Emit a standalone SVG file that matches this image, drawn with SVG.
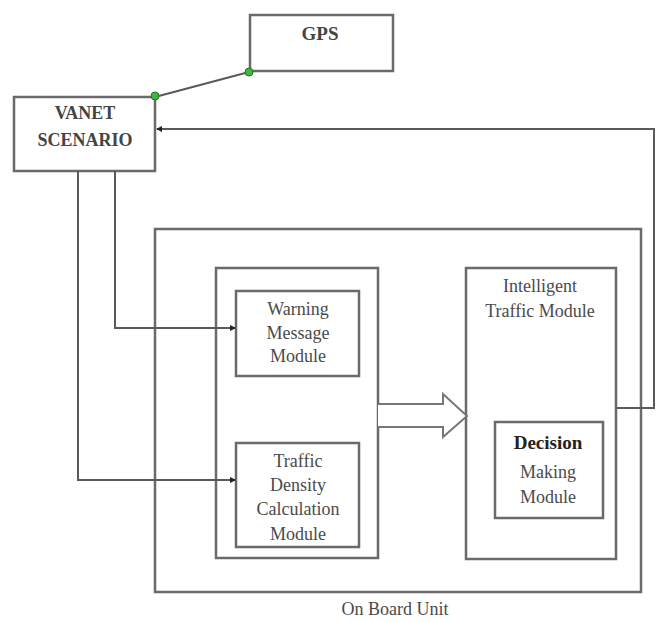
<svg xmlns="http://www.w3.org/2000/svg" width="665" height="622" viewBox="0 0 665 622">
<style>
.box{fill:#fff;stroke:#6a6a6a;stroke-width:2.5}
.ln{fill:none;stroke:#5a5a5a;stroke-width:2}
text{font-family:"Liberation Serif","DejaVu Serif","Times New Roman",serif;fill:#4a4a4a;text-anchor:middle;font-size:18px}
.b{font-weight:bold;fill:#444}
.dot{fill:#3db83d;stroke:#1f7a1f;stroke-width:1}
</style>
<defs>
<marker id="ah" viewBox="0 0 6 6" refX="5" refY="3" markerWidth="6" markerHeight="6" markerUnits="userSpaceOnUse" orient="auto">
<path d="M0,0 L6,3 L0,6 Z" fill="#222"/>
</marker>
</defs>
<rect width="665" height="622" fill="#fff"/>
<g id="obu">
<rect class="box" x="155" y="229" width="486" height="363"/>
<text x="395" y="615">On Board Unit</text>
</g>
<g id="left-group">
<rect class="box" x="216" y="268" width="162" height="290"/>
</g>
<g id="warning">
<rect class="box" x="236" y="291" width="123" height="85"/>
<text x="298" y="315">Warning</text>
<text x="298" y="339">Message</text>
<text x="298" y="362">Module</text>
</g>
<g id="density">
<rect class="box" x="236" y="443" width="123" height="104"/>
<text x="298" y="467">Traffic</text>
<text x="298" y="491">Density</text>
<text x="298" y="515">Calculation</text>
<text x="298" y="540">Module</text>
</g>
<g id="intelligent">
<rect class="box" x="466" y="268" width="150" height="291"/>
<text x="540" y="292">Intelligent</text>
<text x="540" y="317">Traffic Module</text>
</g>
<g id="decision">
<rect class="box" x="495" y="422" width="108" height="96"/>
<text class="b" x="548" y="449" style="font-size:19px;fill:#222">Decision</text>
<text x="548" y="478">Making</text>
<text x="548" y="503">Module</text>
</g>
<g id="gps">
<rect class="box" x="250" y="15" width="143" height="56"/>
<text class="b" x="320" y="40" style="font-size:19px">GPS</text>
</g>
<g id="vanet">
<rect class="box" x="14" y="97" width="141" height="74"/>
<text class="b" x="85" y="119">VANET</text>
<text class="b" x="85" y="146">SCENARIO</text>
</g>
<g id="connectors">
<line class="ln" x1="249" y1="72" x2="155" y2="97"/>
<polyline class="ln" points="115,171 115,328 235,328" marker-end="url(#ah)"/>
<polyline class="ln" points="78,171 78,480 235,480" marker-end="url(#ah)"/>
<polyline class="ln" points="617,408 654,408 654,129 157,129" marker-end="url(#ah)"/>
<path d="M378,404 H443 V394 L467,416 L443,437 V427 H378" fill="#fff" stroke="#777" stroke-width="2"/>
<circle class="dot" cx="249" cy="72" r="4"/>
<circle class="dot" cx="155" cy="96" r="4"/>
</g>
</svg>
